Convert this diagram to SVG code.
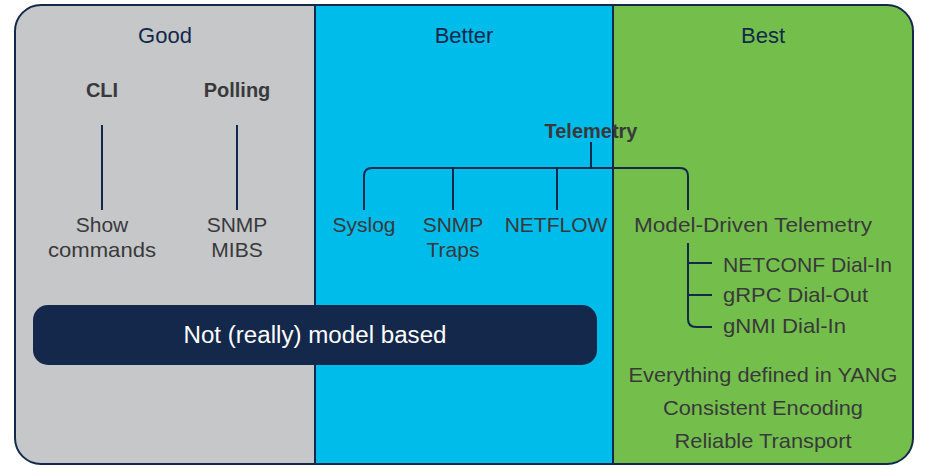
<svg xmlns="http://www.w3.org/2000/svg" width="929" height="470" viewBox="0 0 929 470">
<defs>
<style>
.title{font-family:"Liberation Sans",Arial,sans-serif;font-size:22px;fill:#13294b;text-anchor:middle}
.hd{font-family:"Liberation Sans",Arial,sans-serif;font-size:20px;font-weight:bold;fill:#39393b;text-anchor:middle}
.t{font-family:"Liberation Sans",Arial,sans-serif;font-size:21px;fill:#39393b;text-anchor:middle}
.ts{font-family:"Liberation Sans",Arial,sans-serif;font-size:21px;fill:#39393b}
.ln{fill:none;stroke:#13294b;stroke-width:2}
.pill{font-family:"Liberation Sans",Arial,sans-serif;font-size:23px;fill:#ffffff;text-anchor:middle}
</style>
<clipPath id="outer"><rect x="15" y="5" width="898" height="459" rx="26"/></clipPath>
</defs>
<g id="panels" clip-path="url(#outer)">
<rect x="15" y="5" width="300" height="459" fill="#c6c7c9"/>
<rect x="315" y="5" width="298" height="459" fill="#00bceb"/>
<rect x="613" y="5" width="300" height="459" fill="#74bf4b"/>
</g>
<rect x="15" y="5" width="898" height="459" rx="26" class="ln"/>
<line x1="315" y1="5" x2="315" y2="464" class="ln"/>
<line x1="613" y1="5" x2="613" y2="464" class="ln"/>
<g id="titles">
<text class="title" x="165" y="43">Good</text>
<text class="title" x="464" y="43">Better</text>
<text class="title" x="763" y="43">Best</text>
</g>
<g id="connectors">
<line x1="102" y1="125" x2="102" y2="210" class="ln"/>
<line x1="237" y1="125" x2="237" y2="210" class="ln"/>
<line x1="591" y1="142" x2="591" y2="168" class="ln"/>
<path d="M364,210 V176 Q364,168 372,168 H680 Q688,168 688,176 V210" class="ln"/>
<line x1="453" y1="168" x2="453" y2="210" class="ln"/>
<line x1="557" y1="168" x2="557" y2="210" class="ln"/>
<path d="M688,243 V319 Q688,327 696,327 H712" class="ln"/>
<line x1="688" y1="263" x2="712" y2="263" class="ln"/>
<line x1="688" y1="295" x2="712" y2="295" class="ln"/>
</g>
<g id="cli"><text class="hd" x="102" y="97">CLI</text></g>
<g id="polling"><text class="hd" x="237" y="97">Polling</text></g>
<g id="show"><text class="t" x="102" y="232">Show</text><text class="t" x="102" y="257" textLength="108" lengthAdjust="spacingAndGlyphs">commands</text></g>
<g id="snmpmibs"><text class="t" x="237" y="232">SNMP</text><text class="t" x="237" y="257">MIBS</text></g>
<g id="telemetry"><text class="hd" x="591" y="138">Telemetry</text></g>
<g id="syslog"><text class="t" x="364" y="232">Syslog</text></g>
<g id="snmptraps"><text class="t" x="453" y="232">SNMP</text><text class="t" x="453" y="257">Traps</text></g>
<g id="netflow"><text class="t" x="556" y="232">NETFLOW</text></g>
<g id="mdt"><text class="t" x="753" y="232" textLength="238" lengthAdjust="spacingAndGlyphs">Model-Driven Telemetry</text></g>
<g id="netconf"><text class="ts" x="723" y="272" textLength="169" lengthAdjust="spacingAndGlyphs">NETCONF Dial-In</text></g>
<g id="grpc"><text class="ts" x="723" y="302" textLength="145" lengthAdjust="spacingAndGlyphs">gRPC Dial-Out</text></g>
<g id="gnmi"><text class="ts" x="723" y="333" textLength="123" lengthAdjust="spacingAndGlyphs">gNMI Dial-In</text></g>
<g id="notes">
<text class="t" x="763" y="382" textLength="269" lengthAdjust="spacingAndGlyphs">Everything defined in YANG</text>
<text class="t" x="763" y="415" textLength="200" lengthAdjust="spacingAndGlyphs">Consistent Encoding</text>
<text class="t" x="763" y="448" textLength="177" lengthAdjust="spacingAndGlyphs">Reliable Transport</text>
</g>
<g id="notmodel">
<rect x="33" y="305" width="564" height="60" rx="15" fill="#14284b"/>
<text class="pill" x="315" y="343" textLength="263" lengthAdjust="spacingAndGlyphs">Not (really) model based</text>
</g>
</svg>
